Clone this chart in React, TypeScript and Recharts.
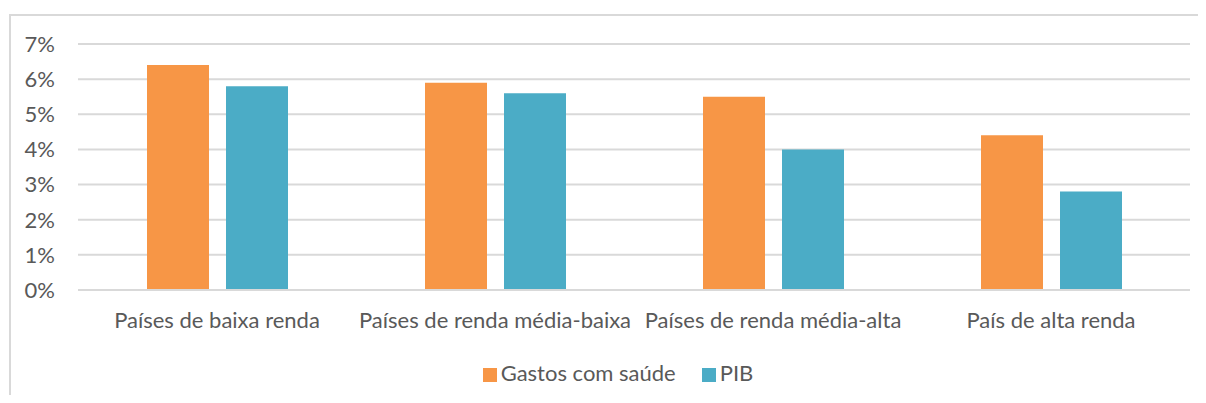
import { BarChart, Bar, XAxis, YAxis, CartesianGrid, Legend } from "recharts";

const categories = [
  "Países de baixa renda",
  "Países de renda média-baixa",
  "Países de renda média-alta",
  "País de alta renda",
];
const gastosSaude = [6.4, 5.9, 5.5, 4.4];
const pib = [5.8, 5.6, 4.0, 2.8];
const yTicks = [0, 1, 2, 3, 4, 5, 6, 7];

const data = categories.map((name, i) => ({
  name,
  gastos: gastosSaude[i],
  pib: pib[i],
}));

const FONT = "Lato, 'Open Sans', sans-serif";
const TEXT = "#595959";
const GRID = "#D9D9D9";

const App = () => {
  return (
    <div style={{ position: "relative", width: 1206, height: 403, margin: -8, overflow: "hidden", background: "#fff" }}>
      <div
        style={{
          position: "absolute",
          left: 9,
          top: 14,
          width: 1220,
          height: 420,
          border: `2px solid ${GRID}`,
          boxSizing: "border-box",
        }}
      />
      <div style={{ position: "absolute", left: 0, top: 0 }}>
        <BarChart
          width={1206}
          height={403}
          data={data}
          margin={{ top: 44, right: 16, left: 18, bottom: 17 }}
          barSize={62}
          barGap={17}
          style={{ fontFamily: FONT }}
        >
          <CartesianGrid horizontal vertical={false} stroke={GRID} strokeWidth={2} />
          <XAxis
            dataKey="name"
            height={70}
            axisLine={{ stroke: GRID, strokeWidth: 2 }}
            tickLine={false}
            tickMargin={16}
            interval={0}
            tick={{ fill: TEXT, fontSize: 22 }}
          />
          <YAxis
            width={60}
            domain={[0, 7]}
            ticks={yTicks}
            interval={0}
            axisLine={false}
            tickLine={false}
            tickSize={0}
            tickMargin={23}
            tickFormatter={(v: number) => `${v}%`}
            tick={{ fill: TEXT, fontSize: 22 }}
          />
          <Legend
            verticalAlign="bottom"
            align="center"
            iconType="square"
            iconSize={14}
            wrapperStyle={{ bottom: 17, fontSize: 22, lineHeight: "26px", paddingLeft: 54, boxSizing: "border-box" }}
            formatter={(value: string) => <span style={{ color: TEXT, marginRight: 16 }}>{value}</span>}
          />
          <Bar dataKey="gastos" name="Gastos com saúde" fill="#F79646" isAnimationActive={false} />
          <Bar dataKey="pib" name="PIB" fill="#4BACC6" isAnimationActive={false} />
        </BarChart>
      </div>
    </div>
  );
};

export default App;
